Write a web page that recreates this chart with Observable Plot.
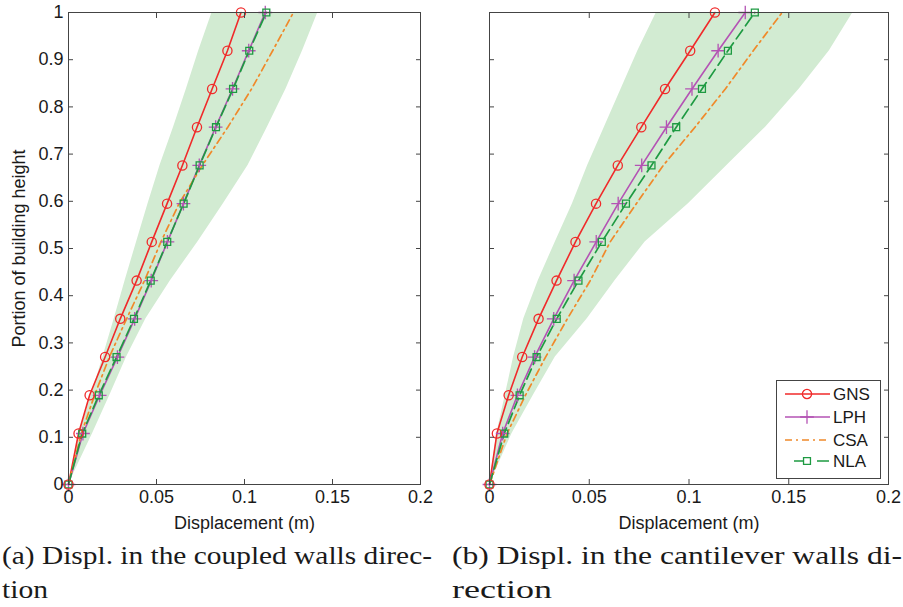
<!DOCTYPE html>
<html><head><meta charset="utf-8">
<script src="https://cdn.jsdelivr.net/npm/d3@7"></script>
<script src="https://cdn.jsdelivr.net/npm/@observablehq/plot@0.6"></script>
<style>
body{margin:0;background:#fff;}
#wrap{position:relative;width:903px;height:607px;overflow:hidden;font-family:"Liberation Sans",Arial,sans-serif;background:#fff;}
#wrap > *{position:absolute;}
</style></head><body><div id="wrap"></div>
<script>
// ---- data ----
const heights = [0, 0.108, 0.189, 0.27, 0.351, 0.432, 0.514, 0.595, 0.676, 0.757, 0.838, 0.919, 1];

// (a) coupled walls direction
const gnsA = [0, 0.0057, 0.0120, 0.0208, 0.0294, 0.0387, 0.0473, 0.0560, 0.0647, 0.0730, 0.0816, 0.0903, 0.0980];
const lphA = [0, 0.0082, 0.0177, 0.0278, 0.0376, 0.0470, 0.0562, 0.0653, 0.0743, 0.0836, 0.0932, 0.1024, 0.1118];
const csaA = [0, 0.0073, 0.0148, 0.0232, 0.0330, 0.0432, 0.0525, 0.0628, 0.0760, 0.0905, 0.1040, 0.1160, 0.1278];
const nlaA = [0, 0.0078, 0.0172, 0.0273, 0.0372, 0.0467, 0.0561, 0.0654, 0.0745, 0.0838, 0.0935, 0.1027, 0.1124];
const bandLoA = [0, 0.0063, 0.0130, 0.0196, 0.0260, 0.0322, 0.0387, 0.0452, 0.0520, 0.0597, 0.0670, 0.0740, 0.0816];
const bandHiA = [0, 0.0137, 0.0235, 0.0330, 0.0440, 0.0580, 0.0735, 0.0880, 0.1020, 0.1130, 0.1236, 0.1330, 0.1417];

// (b) cantilever walls direction
const gnsB = [0, 0.0037, 0.0096, 0.0164, 0.0246, 0.0336, 0.0431, 0.0534, 0.0643, 0.0761, 0.0880, 0.1006, 0.1130];
const lphB = [0, 0.0066, 0.0140, 0.0226, 0.0322, 0.0424, 0.0535, 0.0645, 0.0763, 0.0887, 0.1015, 0.1146, 0.1282];
const csaB = [0, 0.0088, 0.0180, 0.0281, 0.0390, 0.0505, 0.0605, 0.0736, 0.0871, 0.1030, 0.1182, 0.1322, 0.1467];
const nlaB = [0, 0.0074, 0.0151, 0.0236, 0.0337, 0.0446, 0.0563, 0.0684, 0.0812, 0.0936, 0.1065, 0.1195, 0.1330];
const bandLoB = [0, 0.0037, 0.0079, 0.0121, 0.0172, 0.0245, 0.0330, 0.0416, 0.0492, 0.0576, 0.0660, 0.0744, 0.0837];
const bandHiB = [0, 0.0113, 0.0220, 0.0330, 0.0490, 0.0630, 0.0780, 0.0997, 0.1190, 0.1384, 0.1553, 0.1704, 0.1822];

const xTicks = [0, 0.05, 0.1, 0.15, 0.2];
const xTickLabels = ["0", "0.05", "0.1", "0.15", "0.2"];
const yTicks = [0, 0.1, 0.2, 0.3, 0.4, 0.5, 0.6, 0.7, 0.8, 0.9, 1];
const yTickLabels = ["0", "0.1", "0.2", "0.3", "0.4", "0.5", "0.6", "0.7", "0.8", "0.9", "1"];

const seriesNames = ["GNS", "LPH", "CSA", "NLA"];
const captionA = ["(a) Displ. in the coupled walls direc-", "tion"];
const captionB = ["(b) Displ. in the cantilever walls di-", "rection"];

// ---- styles ----
const C = {GNS: "#f02a2a", LPH: "#b453b4", CSA: "#f0892a", NLA: "#1e9a42", band: "#d2ebd2", axis: "#444"};

const rows = (vals) => heights.map((h, i) => ({h, v: vals[i]}));

function panel({width, ml, mr, showY, gns, lph, csa, nla, lo, hi}) {
  const band = heights.map((h, i) => ({h, lo: lo[i], hi: hi[i]}));
  return Plot.plot({
    width, height: 530,
    marginLeft: ml, marginRight: mr, marginTop: 12, marginBottom: 46,
    x: {domain: [0, 0.2]},
    y: {domain: [0, 1]},
    style: {fontFamily: "'Liberation Sans', Arial, sans-serif", fontSize: "18px", color: "#1a1a1a", background: "transparent", overflow: "visible"},
    marks: [
      Plot.areaX(band, {y: "h", x1: "lo", x2: "hi", fill: C.band}),
      Plot.line(rows(gns), {x: "v", y: "h", stroke: C.GNS, strokeWidth: 1.6}),
      Plot.line(rows(lph), {x: "v", y: "h", stroke: C.LPH, strokeWidth: 1.6}),
      Plot.line(rows(csa), {x: "v", y: "h", stroke: C.CSA, strokeWidth: 1.7, strokeDasharray: "7,4,2,4"}),
      Plot.line(rows(nla), {x: "v", y: "h", stroke: C.NLA, strokeWidth: 1.7, strokeDasharray: "11,5"}),
      Plot.dot(rows(lph), {x: "v", y: "h", symbol: "plus", r: 4.5, stroke: C.LPH, fill: "none", strokeWidth: 1.3}),
      Plot.dot(rows(nla), {x: "v", y: "h", symbol: "square", r: 3.9, stroke: C.NLA, fill: "none", strokeWidth: 1.3}),
      Plot.dot(rows(gns), {x: "v", y: "h", symbol: "circle", r: 4.6, stroke: C.GNS, fill: "none", strokeWidth: 1.3}),
      Plot.frame({stroke: C.axis}),
      Plot.axisX({ticks: xTicks, tickFormat: d => xTickLabels[xTicks.indexOf(d)], tickSize: -5, tickPadding: 11, stroke: C.axis,
        label: "Displacement (m)", labelAnchor: "center", labelOffset: 44, labelArrow: "none"}),
      Plot.axisX({anchor: "top", ticks: xTicks, tickFormat: () => "", tickSize: -5, stroke: C.axis, label: null}),
      Plot.axisY({ticks: yTicks, tickFormat: showY ? (d => yTickLabels[yTicks.indexOf(d)]) : (() => ""), tickSize: -5, tickPadding: 10, stroke: C.axis,
        label: showY ? "Portion of building height" : null, labelAnchor: "center", labelOffset: 56, labelArrow: "none"}),
      Plot.axisY({anchor: "right", ticks: yTicks, tickFormat: () => "", tickSize: -5, stroke: C.axis, label: null})
    ]
  });
}

const wrap = document.getElementById("wrap");
const pA = panel({width: 440, ml: 68, mr: 20, showY: true, gns: gnsA, lph: lphA, csa: csaA, nla: nlaA, lo: bandLoA, hi: bandHiA});
pA.style.left = "0px"; pA.style.top = "0px";
wrap.appendChild(pA);
const pB = panel({width: 463, ml: 49, mr: 15, showY: false, gns: gnsB, lph: lphB, csa: csaB, nla: nlaB, lo: bandLoB, hi: bandHiB});
pB.style.left = "440px"; pB.style.top = "0px";
wrap.appendChild(pB);

// ---- legend ----
const leg = d3.create("svg").attr("width", 106).attr("height", 100)
  .style("left", "776px").style("top", "380px");
leg.append("rect").attr("x", 0.5).attr("y", 0.5).attr("width", 104).attr("height", 98)
  .attr("fill", "#fff").attr("stroke", C.axis);
const legSpec = {
  GNS: {sym: d3.symbolCircle, r: 4.6, x1: 9, dash: null},
  LPH: {sym: d3.symbolPlus, r: 4.5, x1: 9, dash: null},
  CSA: {sym: null, r: 0, x1: 9, dash: "7,4,2,4"},
  NLA: {sym: d3.symbolSquare, r: 3.9, x1: 18, dash: "9,14,12"}
};
const legY = [14, 37, 60, 81];
seriesNames.forEach((name, i) => {
  const s = legSpec[name];
  const g = leg.append("g").attr("transform", `translate(0,${legY[i]})`);
  g.append("line").attr("x1", s.x1).attr("x2", 54).attr("y1", 0).attr("y2", 0)
    .attr("stroke", C[name]).attr("stroke-width", 1.6)
    .attr("stroke-dasharray", s.dash);
  if (s.sym) g.append("path").attr("transform", "translate(31,0)")
    .attr("d", d3.symbol(s.sym, Math.PI * s.r * s.r)())
    .attr("fill", "none").attr("stroke", C[name]).attr("stroke-width", 1.3);
  g.append("text").attr("x", 57).attr("y", 0).attr("dy", "0.36em")
    .attr("font-size", 17).attr("fill", "#1a1a1a").attr("font-family", "'Liberation Sans', Arial, sans-serif")
    .text(name);
});
wrap.appendChild(leg.node());

// ---- captions ----
const cap = d3.create("svg").attr("width", 903).attr("height", 77).style("left", "0px").style("top", "530px");
const capStyle = t => t.attr("font-family", "'Liberation Serif', 'DejaVu Serif', serif").attr("font-size", 26)
  .attr("lengthAdjust", "spacingAndGlyphs").attr("fill", "#1a1a1a");
capStyle(cap.append("text").attr("x", 2).attr("y", 34).attr("textLength", 430).text(captionA[0]));
capStyle(cap.append("text").attr("x", 2).attr("y", 68).attr("textLength", 46).text(captionA[1]));
capStyle(cap.append("text").attr("x", 452).attr("y", 34).attr("textLength", 450).text(captionB[0]));
capStyle(cap.append("text").attr("x", 452).attr("y", 68).attr("textLength", 100).text(captionB[1]));
wrap.appendChild(cap.node());
</script>
</body></html>
